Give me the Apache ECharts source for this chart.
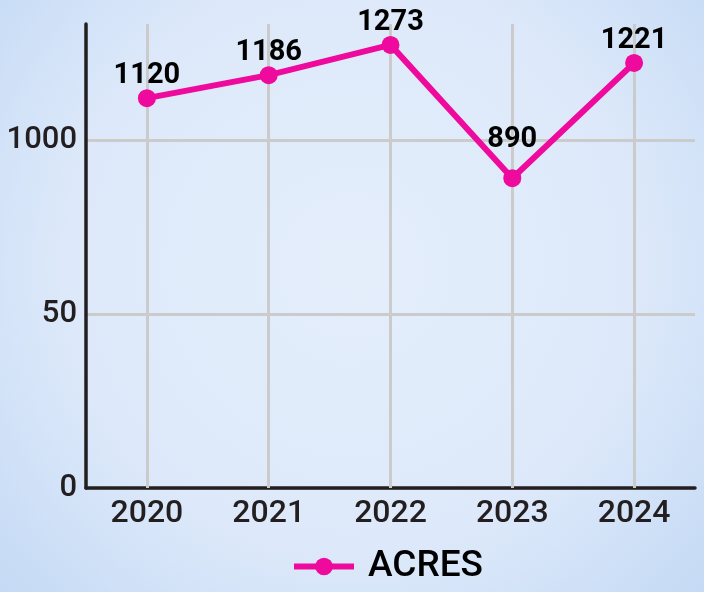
<!DOCTYPE html>
<html>
<head>
<meta charset="utf-8">
<style>
  html, body { margin: 0; padding: 0; }
  #chart { width: 704px; height: 592px; }
</style>
<script src="https://cdn.jsdelivr.net/npm/echarts@6.0.0/dist/echarts.min.js"></script>
</head>
<body>
<div id="chart"></div>
<script>
// data
const years = ['2020', '2021', '2022', '2023', '2024'];
const acres = [1120, 1186, 1273, 890, 1221];
const seriesName = 'ACRES';

// y ticks as printed in the picture (the middle one really reads "50")
const yTicks = [0, 500, 1000];
const yTickLabels = ['0', '50', '1000'];

const PINK = '#ee0a9c';
const INK = '#231f20';
const GRID = '#cbcbcb';

const chart = echarts.init(document.getElementById('chart'));

chart.setOption({
  backgroundColor: {
    type: 'radial', x: 0.5, y: 0.45, r: 0.8,
    colorStops: [
      { offset: 0, color: '#e4eefb' },
      { offset: 0.6, color: '#dde9fa' },
      { offset: 1, color: '#c5daf5' },
    ],
  },
  textStyle: { fontFamily: 'Roboto' },
  grid: { left: 86, right: 9, top: 24, bottom: 104, containLabel: false },
  legend: {
    data: [seriesName],
    left: 291,
    top: 548,
    padding: 0,
    itemWidth: 60,
    itemHeight: 22,
    lineStyle: { width: 6 },
    textStyle: { fontSize: 37, fontWeight: 500, color: '#000', padding: [0, 0, 0, 9] },
  },
  xAxis: {
    type: 'category',
    data: years,
    boundaryGap: true,
    axisLine: { lineStyle: { color: INK, width: 3.5 } },
    // inside ticks stretched across the grid act as the vertical grid lines
    axisTick: {
      show: true, inside: true, length: 464, alignWithLabel: true,
      lineStyle: { color: GRID, width: 3 },
    },
    axisLabel: { fontSize: 32, fontWeight: 500, color: INK, margin: 10 },
    splitLine: { show: false },
  },
  yAxis: {
    type: 'value',
    min: 0,
    max: 1333,
    interval: 500,
    axisLine: { show: true, lineStyle: { color: INK, width: 3.5 } },
    axisTick: { show: false },
    axisLabel: {
      fontSize: 31, fontWeight: 500, color: INK, margin: 9, showMaxLabel: false,
      formatter: v => {
        const i = yTicks.indexOf(v);
        return i >= 0 ? yTickLabels[i] : '';
      },
    },
    splitLine: { show: true, showMaxLine: false, lineStyle: { color: GRID, width: 3 } },
  },
  series: [{
    name: seriesName,
    type: 'line',
    // the label of the dip sits higher, clear of the V
    data: acres.map((v, i) => years[i] === '2023' ? { value: v, label: { distance: 15 } } : v),
    symbol: 'circle',
    symbolSize: 18,
    itemStyle: { color: PINK },
    lineStyle: { color: PINK, width: 6 },
    label: {
      show: true,
      position: 'top',
      distance: -1,
      fontSize: 29,
      fontWeight: 'bold',
      color: '#000',
    },
  }],
});
</script>
</body>
</html>
